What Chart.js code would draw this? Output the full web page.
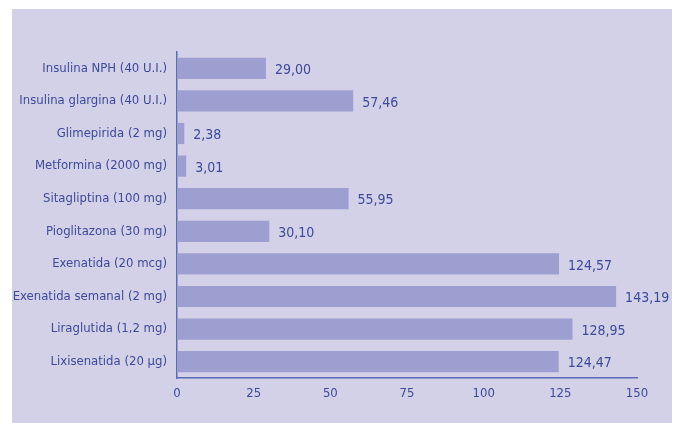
<!DOCTYPE html>
<html>
<head>
<meta charset="utf-8">
<script src="https://cdn.jsdelivr.net/npm/chart.js@4.4.1/dist/chart.umd.min.js"></script>
<style>
  html, body { margin: 0; padding: 0; background: #ffffff; }
  #panel { position: absolute; left: 12px; top: 9px; width: 660px; height: 414px; background: #d3d1e7; }
  #wrap { position: absolute; left: 0; top: 0; width: 678px; height: 423px; }
</style>
</head>
<body>
<div id="panel"></div>
<div id="wrap"><canvas id="barChart" width="678" height="423"></canvas></div>
<script>
  // data
  var labels = ['Insulina NPH (40 U.I.)', 'Insulina glargina (40 U.I.)', 'Glimepirida (2 mg)',
    'Metformina (2000 mg)', 'Sitagliptina (100 mg)', 'Pioglitazona (30 mg)', 'Exenatida (20 mcg)',
    'Exenatida semanal (2 mg)', 'Liraglutida (1,2 mg)', 'Lixisenatida (20 µg)'];
  var costs = [29.00, 57.46, 2.38, 3.01, 55.95, 30.10, 124.57, 143.19, 128.95, 124.47];
  var xTicks = [0, 25, 50, 75, 100, 125, 150];

  var textColor = '#3d4a99';
  var axisColor = '#5a6cb8';
  var fontFamily = '"DejaVu Sans Condensed", "Liberation Sans", sans-serif';

  // value labels to the right of each bar
  var valueLabels = {
    id: 'valueLabels',
    afterDatasetsDraw: function(chart) {
      var ctx = chart.ctx;
      var meta = chart.getDatasetMeta(0);
      ctx.save();
      ctx.fillStyle = textColor;
      ctx.font = '14px ' + fontFamily;
      ctx.textBaseline = 'middle';
      ctx.textAlign = 'left';
      meta.data.forEach(function(bar, i) {
        var txt = costs[i].toFixed(2).replace('.', ',');
        ctx.fillText(txt, bar.x + 9, bar.y + 2);
      });
      ctx.restore();
    }
  };

  var ctx = document.getElementById('barChart').getContext('2d');
  new Chart(ctx, {
    type: 'bar',
    data: {
      labels: labels,
      datasets: [{
        data: costs,
        backgroundColor: '#9e9fd1',
        borderWidth: 0,
        barPercentage: 0.65,
        categoryPercentage: 1
      }]
    },
    options: {
      indexAxis: 'y',
      responsive: false,
      animation: false,
      layout: { padding: { top: 52, right: 41, left: 0, bottom: 0 } },
      plugins: { legend: { display: false }, tooltip: { enabled: false } },
      scales: {
        x: {
          min: 0,
          max: 150,
          afterBuildTicks: function(axis) {
            axis.ticks = xTicks.map(function(v) { return { value: v }; });
          },
          afterFit: function(axis) { axis.height = 45; },
          grid: { display: false, drawTicks: false },
          border: { display: true, color: axisColor, width: 1.5 },
          ticks: { color: textColor, font: { family: fontFamily, size: 13 }, padding: 8, maxRotation: 0 }
        },
        y: {
          afterFit: function(axis) { axis.width = 177; },
          grid: { display: false, drawTicks: false },
          border: { display: true, color: axisColor, width: 1.5 },
          ticks: { color: textColor, font: { family: fontFamily, size: 13 }, padding: 10 }
        }
      }
    },
    plugins: [valueLabels]
  });
</script>
</body>
</html>
